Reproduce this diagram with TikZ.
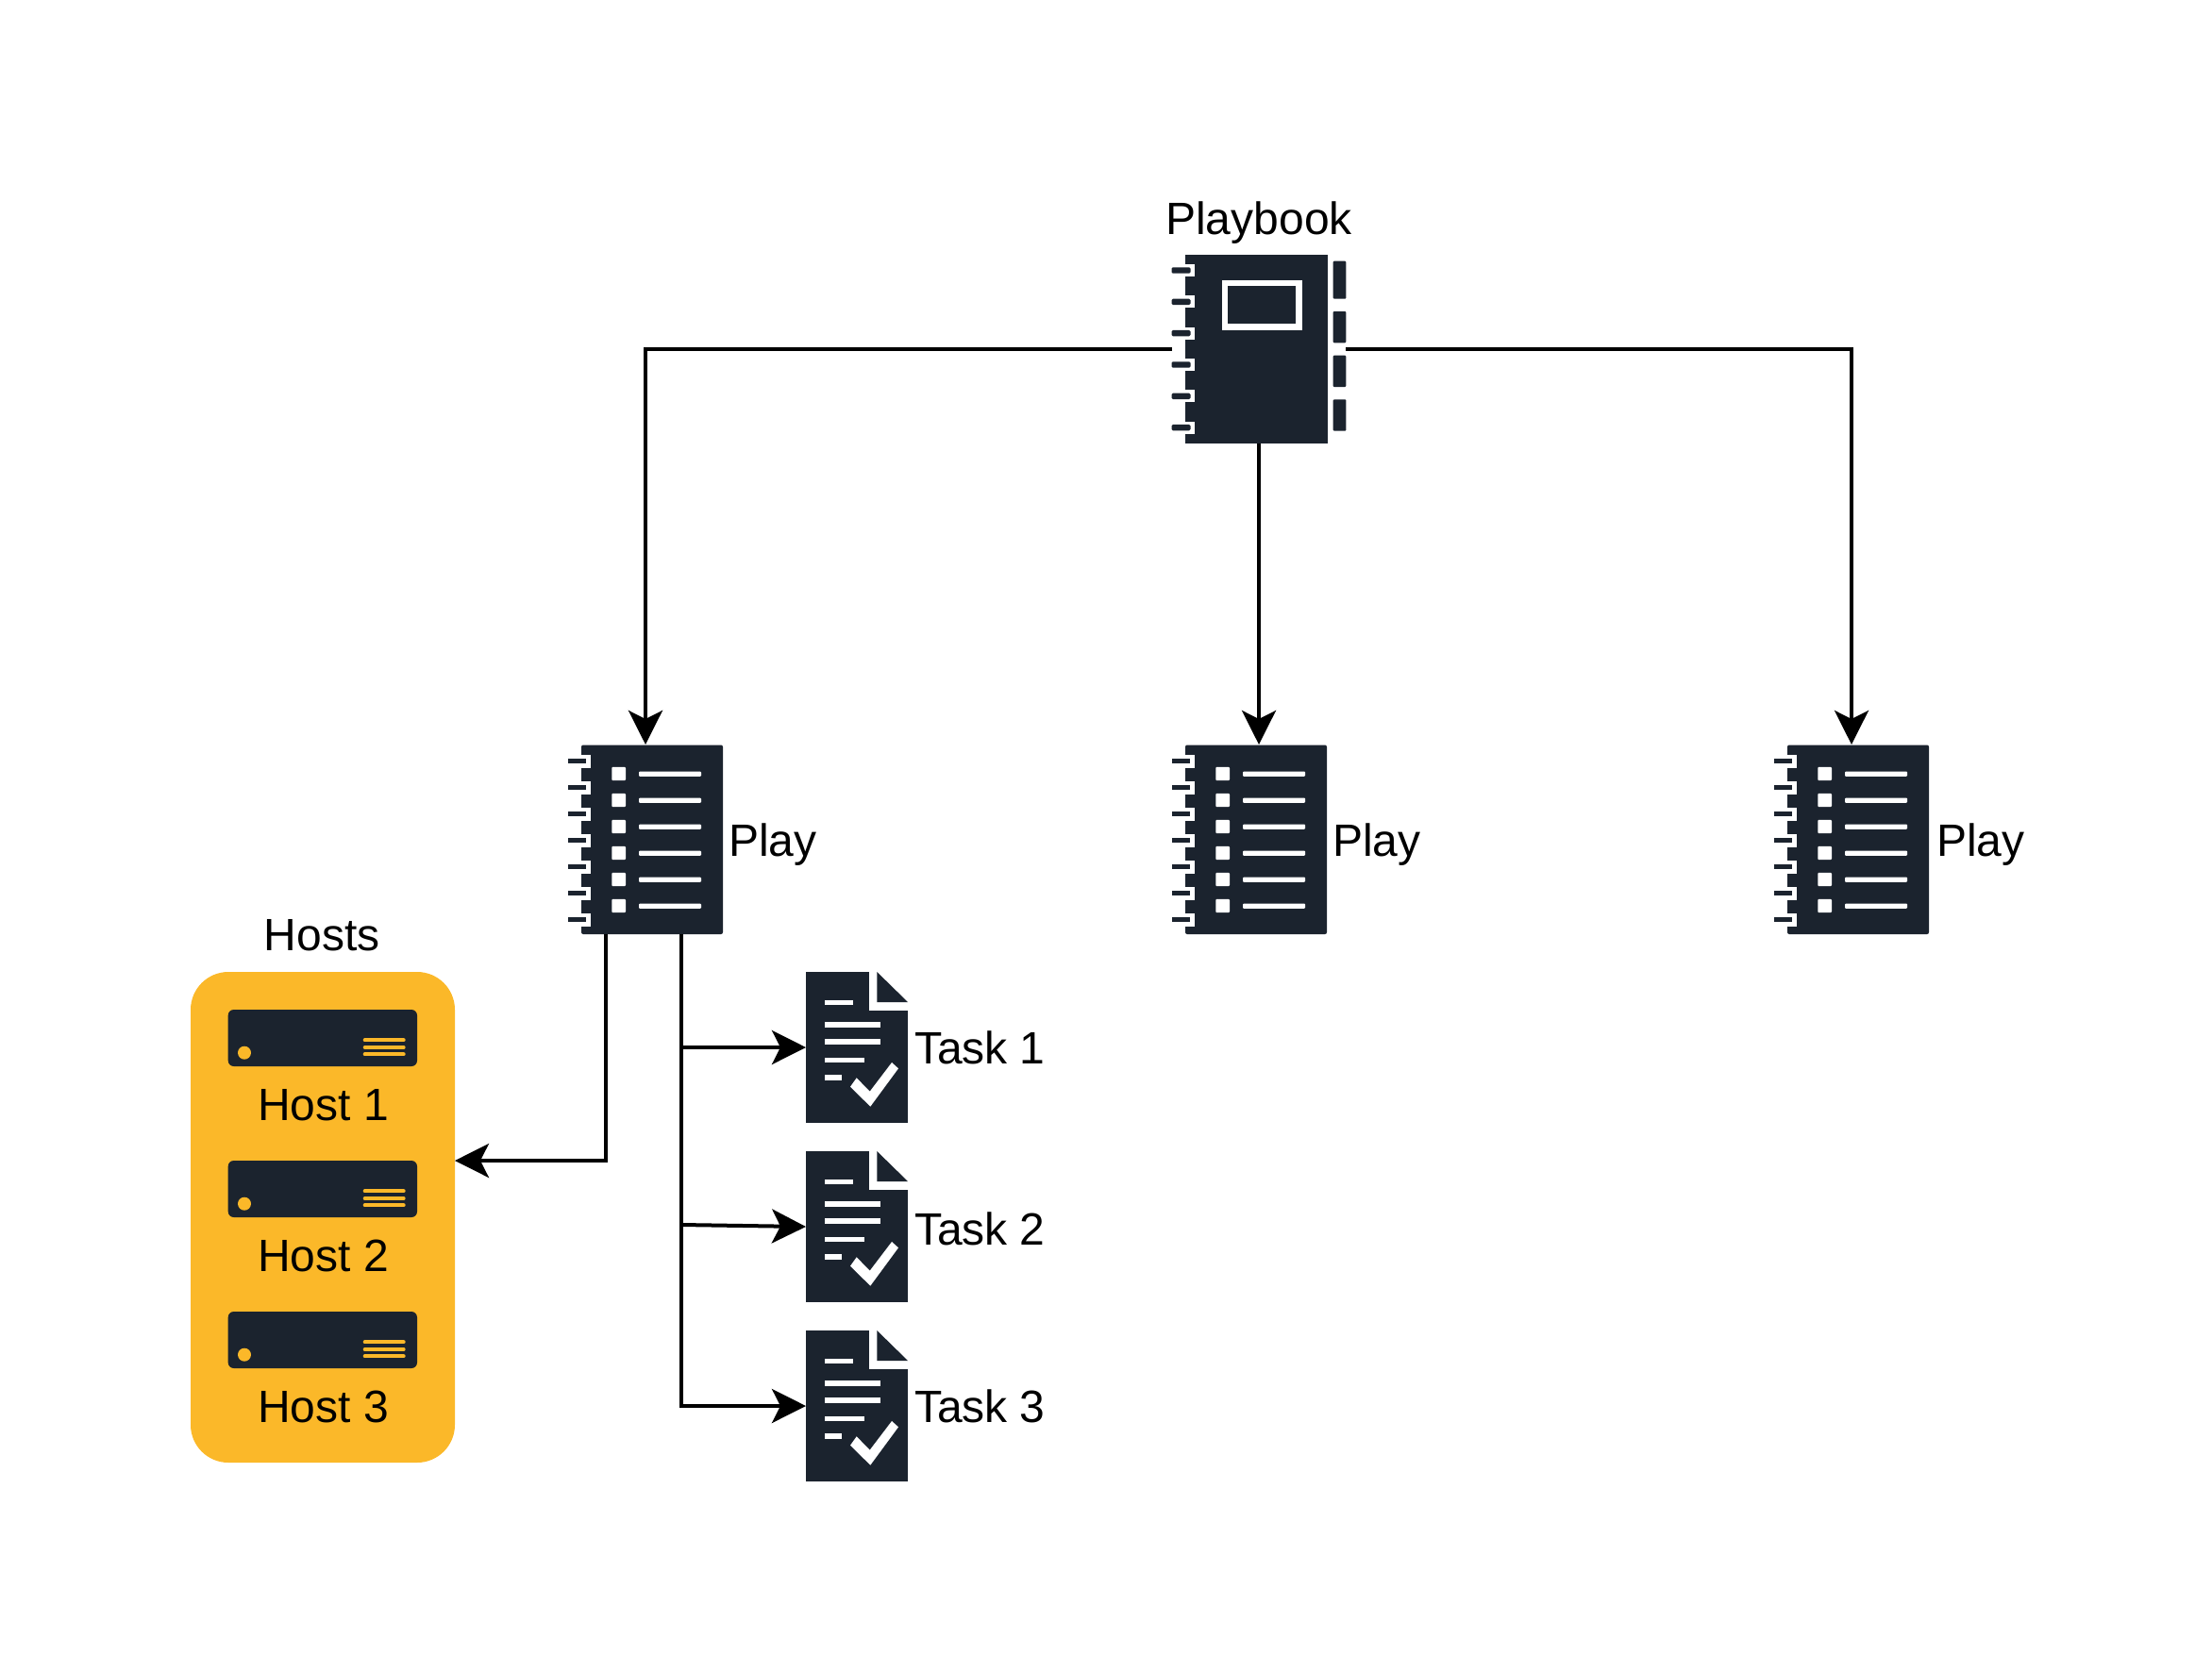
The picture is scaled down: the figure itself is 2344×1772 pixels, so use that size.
\documentclass[tikz,border=0pt]{standalone}
\usepackage{fontspec}
\setmainfont{Liberation Sans}
\usetikzlibrary{arrows.meta}
\definecolor{ink}{HTML}{1B232E}
\definecolor{amber}{HTML}{FBB829}
\tikzset{
  every node/.style={inner sep=0pt, outer sep=0pt},
  lab/.style={font=\fontsize{24pt}{28pt}\selectfont, text=black},
  link/.style={draw=black, line width=2pt, -{Stealth[length=18pt,width=18pt,inset=4.5pt]}},
}
% playbook icon: origin at body top-left
\newcommand{\playbookicon}[2]{%
  \begin{scope}[shift={(#1,#2)}]
    \fill[ink] (0,0) rectangle (151,200);
    \foreach \k in {0,...,5}{
      \fill[white] (-1,10+33.33*\k) rectangle (9.5,23+33.33*\k);
      \fill[ink,rounded corners=0.7pt] (-14.5,13.3+33.33*\k) rectangle (5.5,19.7+33.33*\k);
    }
    \fill[ink,rounded corners=0.5pt] (156.7,6.7) rectangle (170.3,46.7);
    \fill[ink,rounded corners=0.5pt] (156.7,60) rectangle (170.3,93.3);
    \fill[ink,rounded corners=0.5pt] (156.7,106.7) rectangle (170.3,140);
    \fill[ink,rounded corners=0.5pt] (156.7,153.3) rectangle (170.3,186.7);
    \fill[white] (38.7,26.7) rectangle (124,80);
    \fill[ink] (45.3,33.3) rectangle (117.3,72.7);
  \end{scope}}
% play icon: origin at body top-left
\newcommand{\playicon}[2]{%
  \begin{scope}[shift={(#1,#2)}]
    \fill[ink,rounded corners=1pt] (0,0) rectangle (150,200.5);
    \foreach \k in {0,...,6}{
      \fill[white] (-1,10+28*\k) rectangle (9.7,24+28*\k);
      \fill[ink] (-14,14.4+28*\k) rectangle (4.7,19+28*\k);
    }
    \foreach \k in {0,...,5}{
      \fill[white,rounded corners=0.5pt] (32.3,23.4+28*\k) rectangle (47,37.7+28*\k);
      \fill[white,rounded corners=0.5pt] (61,28+28*\k) rectangle (127,33.4+28*\k);
    }
  \end{scope}}
% task icon: origin at body top-left
\newcommand{\taskicon}[2]{%
  \begin{scope}[shift={(#1,#2)}]
    \fill[ink] (0,0) rectangle (108,160);
    \fill[white] (67.3,-1) rectangle (109,40.7);
    \fill[ink] (75.3,0) -- (108,32) -- (75.3,32) -- cycle;
    \fill[white] (20.3,30) rectangle (50,35.3);
    \fill[white] (20.3,53.3) rectangle (78.7,58.7);
    \fill[white] (20.3,71.3) rectangle (78.7,77);
    \fill[white] (20.3,90.7) rectangle (62,96);
    \fill[white] (20.3,109.3) rectangle (37.7,114.7);
    \fill[white] (47,121.7) -- (53.7,112.3) -- (67.7,126.7) -- (91,96) -- (98,102.3) -- (68.3,142.7) -- cycle;
  \end{scope}}
% server icon: origin at top-left
\newcommand{\servericon}[2]{%
  \begin{scope}[shift={(#1,#2)}]
    \fill[ink,rounded corners=3pt] (0,0) rectangle (200.3,60);
    \fill[amber] (17.3,45.7) circle[radius=7];
    \foreach \yy in {32.3,40,47.3}
      \draw[amber,line width=2pt,line cap=round] (145,\yy) -- (186,\yy);
  \end{scope}}
\begin{document}
\begin{tikzpicture}[x=0.5pt,y=-0.5pt]
\useasboundingbox (0,0) rectangle (2344,1772);

% Hosts
\node[rectangle, fill=amber, rounded corners=20pt, minimum width=140pt, minimum height=260pt] (hosts) at (342,1290) {};
\servericon{241.7}{1070}
\servericon{241.7}{1230}
\servericon{241.7}{1390}
\node[lab, anchor=base] (hostsl) at (341,1007.7) {Hosts};
\node[lab, anchor=base] (h1) at (342.5,1187.7) {Host 1};
\node[lab, anchor=base] (h2) at (342.5,1347.7) {Host 2};
\node[lab, anchor=base] (h3) at (342.5,1507.7) {Host 3};

% icon anchors
\node[minimum width=92pt, minimum height=100pt] (pb) at (1334,370) {};
\node[minimum width=82pt, minimum height=100.5pt] (p1) at (684,889.5) {};
\node[minimum width=82pt, minimum height=100.5pt] (p2) at (1324,889.5) {};
\node[minimum width=82pt, minimum height=100.5pt] (p3) at (1962,889.5) {};
\node[minimum width=54pt, minimum height=80pt] (t1) at (908,1110) {};
\node[minimum width=54pt, minimum height=80pt] (t2) at (908,1300) {};
\node[minimum width=54pt, minimum height=80pt] (t3) at (908,1490) {};

\playbookicon{1256}{270}
\playicon{616}{789.5}
\playicon{1256}{789.5}
\playicon{1894}{789.5}
\taskicon{854}{1030}
\taskicon{854}{1220}
\taskicon{854}{1410}

\coordinate (p2top) at (pb.south |- p2.north);
\coordinate (p1host) at (642,990);
\coordinate (p1task) at (722,990);
\coordinate (hostin) at (482,1230);
\coordinate (t2branch) at (722,1298);

% connectors
\draw[link] (pb.west) -| (p1.north);
\draw[link] (pb.south) -- (p2top);
\draw[link] (pb.east) -| (p3.north);
\draw[link] (p1host) |- (hostin);
\draw[link] (p1task) |- (t3.west);
\draw[link] (p1task |- t1.west) -- (t1.west);
\draw[link] (t2branch) -- (t2.west);

% labels
\node[lab, anchor=base] (pbl) at (1334,248) {Playbook};
\node[lab, anchor=base west] (p1l) at (772,907.3) {Play};
\node[lab, anchor=base west] (p2l) at (1412,907.3) {Play};
\node[lab, anchor=base west] (p3l) at (2052,907.3) {Play};
\node[lab, anchor=base west] (t1l) at (969,1127.3) {Task 1};
\node[lab, anchor=base west] (t2l) at (969,1319.7) {Task 2};
\node[lab, anchor=base west] (t3l) at (969,1507.5) {Task 3};
\end{tikzpicture}
\end{document}
